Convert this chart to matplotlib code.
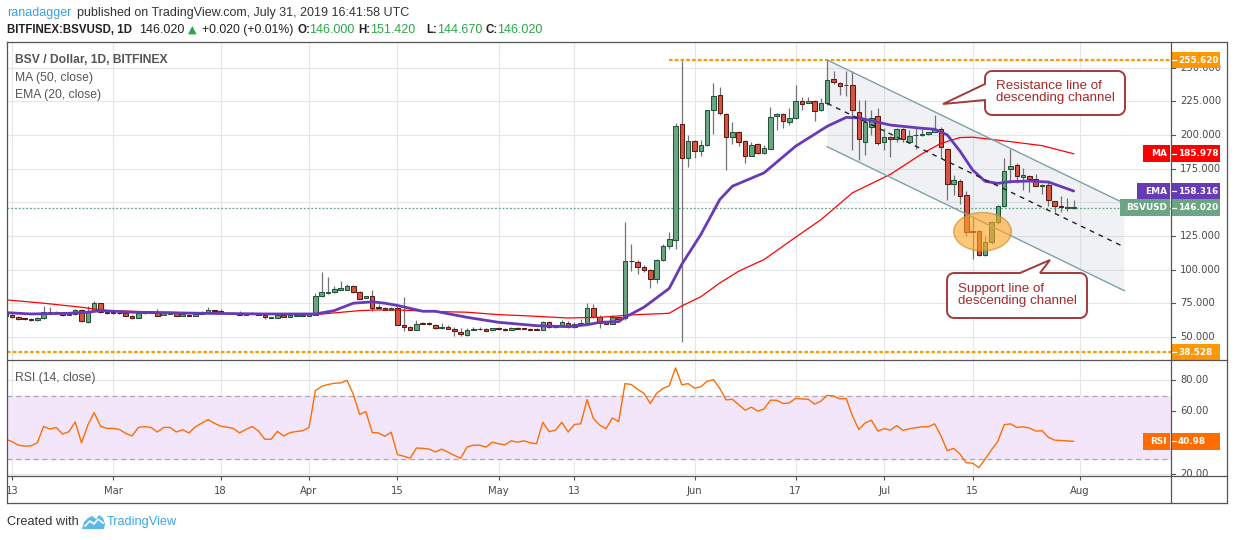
import numpy as np
import pandas as pd
import matplotlib
matplotlib.use("Agg")
import matplotlib.pyplot as plt
import matplotlib.dates as mdates
from matplotlib.patches import Rectangle, Ellipse, Polygon
from matplotlib.lines import Line2D
from matplotlib.transforms import Affine2D

plt.rcParams['font.family'] = ['DejaVu Sans']

# ---------------------------------------------------------------- data
dates = pd.date_range("2019-02-12", "2019-07-31", freq="D")

opens = [65.8, 66.5, 64.8, 63.5, 63.5, 62.5, 64.0, 68.8, 67.5, 67.8,
         66.5, 67.0, 70.0, 61.1, 69.0, 75.2, 68.8, 68.3, 67.8, 67.8,
         65.8, 64.0, 67.8, 68.3, 67.8, 66.3, 67.0, 67.8, 65.5, 66.5,
         65.5, 67.0, 68.8, 70.0, 69.5, 67.8, 67.7, 67.8, 66.5, 67.0,
         67.8, 66.5, 64.3, 64.0, 66.5, 64.8, 65.8, 65.5, 65.5, 66.5,
         80.2, 82.5, 83.2, 85.0, 85.0, 87.5, 83.5, 79.0, 80.0, 72.5,
         71.8, 70.0, 71.8, 59.0, 57.5, 55.0, 60.3, 60.0, 59.0, 56.5,
         57.5, 55.8, 53.8, 51.3, 55.3, 56.0, 56.0, 54.8, 56.8, 56.0,
         55.0, 56.8, 56.0, 56.0, 56.0, 55.0, 61.3, 57.0, 58.0, 60.3,
         57.0, 59.5, 60.3, 71.5, 65.0, 61.0, 59.5, 64.5, 63.9, 106.5,
         105.7, 102.0, 100.0, 93.0, 107.2, 117.6, 122.0, 208.2, 182.9, 195.5,
         188.1, 192.6, 218.6, 229.7, 215.3, 198.5, 202.2, 195.5, 184.4, 193.0,
         186.6, 189.6, 214.0, 215.6, 209.4, 212.6, 225.2, 223.8, 225.2, 218.6,
         224.0, 241.6, 238.6, 236.9, 237.1, 217.3, 195.0, 206.1, 213.8, 194.5,
         198.7, 196.7, 204.1, 195.0, 199.8, 199.7, 200.4, 202.1, 204.6, 189.3,
         163.5, 165.5, 155.0, 128.8, 128.5, 111.1, 120.6, 135.2, 147.0, 174.3,
         177.7, 168.8, 169.8, 167.3, 162.1, 163.1, 150.7, 147.5, 145.8, 146.0]
highs = [68.0, 67.0, 65.5, 64.2, 64.0, 64.8, 73.2, 72.5, 69.0, 68.5,
         67.5, 70.5, 70.5, 73.2, 77.0, 75.5, 69.2, 68.8, 68.3, 68.2,
         66.2, 68.2, 68.8, 68.8, 71.0, 69.3, 69.3, 68.0, 67.3, 66.8,
         68.8, 69.2, 72.5, 70.3, 70.8, 68.2, 68.2, 69.3, 67.6, 68.5,
         68.0, 66.8, 65.0, 66.8, 66.8, 66.6, 68.0, 66.8, 67.3, 82.2,
         98.0, 94.5, 87.5, 91.2, 89.0, 88.5, 84.0, 80.3, 84.5, 74.5,
         72.0, 72.0, 75.5, 79.5, 57.8, 62.7, 61.0, 61.0, 59.3, 60.0,
         59.0, 57.0, 56.5, 56.8, 57.0, 57.3, 56.5, 56.8, 57.5, 56.3,
         57.0, 57.3, 56.3, 56.3, 56.3, 62.0, 61.8, 58.3, 62.8, 62.0,
         61.0, 63.3, 75.0, 74.5, 66.0, 61.3, 66.3, 65.0, 135.4, 119.3,
         107.4, 103.0, 100.3, 108.0, 119.0, 128.0, 209.0, 254.7, 200.2, 196.0,
         196.5, 218.8, 238.6, 235.6, 216.0, 209.9, 203.0, 196.0, 194.8, 194.3,
         192.8, 220.8, 216.0, 216.0, 220.3, 237.4, 228.0, 228.2, 226.0, 227.5,
         255.6, 247.3, 239.0, 247.3, 247.3, 225.9, 225.9, 218.5, 219.7, 204.9,
         199.5, 204.9, 205.0, 203.6, 204.9, 204.5, 202.5, 214.8, 206.1, 190.0,
         170.2, 167.0, 158.5, 140.0, 129.0, 124.8, 136.0, 148.0, 183.0, 189.6,
         179.2, 175.3, 170.5, 171.2, 163.5, 165.0, 151.0, 154.5, 153.2, 151.42]
lows = [65.5, 64.3, 62.8, 62.8, 62.0, 62.0, 63.5, 67.0, 67.0, 65.8,
        66.0, 66.5, 60.9, 60.5, 68.5, 68.0, 67.3, 67.3, 67.2, 65.2,
        63.5, 63.7, 67.3, 67.5, 65.2, 66.0, 66.8, 65.2, 65.2, 65.2,
        65.2, 66.8, 68.5, 68.7, 67.5, 67.3, 67.3, 66.0, 66.2, 66.7,
        66.0, 63.3, 63.8, 63.8, 64.5, 64.5, 65.5, 65.3, 65.2, 66.2,
        79.5, 82.0, 82.8, 84.8, 84.5, 82.5, 78.0, 78.8, 69.0, 71.0,
        70.0, 69.8, 58.5, 54.3, 54.8, 54.8, 59.5, 59.0, 55.5, 56.2,
        55.5, 50.3, 51.0, 51.0, 55.0, 55.3, 54.2, 54.5, 55.2, 54.5,
        54.8, 55.5, 55.5, 54.8, 54.8, 54.8, 56.8, 56.8, 57.5, 56.5,
        56.8, 59.2, 59.8, 64.0, 56.3, 59.2, 59.2, 62.5, 62.5, 98.8,
        96.8, 98.5, 86.4, 90.0, 106.0, 115.4, 114.9, 46.1, 176.0, 182.9,
        184.2, 191.5, 201.0, 215.0, 173.8, 193.6, 191.6, 179.2, 184.2, 186.1,
        186.0, 189.5, 204.0, 205.2, 207.7, 212.0, 218.3, 223.5, 210.4, 218.0,
        222.0, 238.0, 229.5, 228.7, 188.6, 181.4, 185.0, 200.0, 192.5, 188.8,
        183.8, 195.0, 195.0, 194.0, 189.5, 199.0, 200.0, 202.0, 182.6, 152.0,
        155.3, 148.4, 125.0, 108.0, 110.4, 109.9, 119.0, 134.0, 146.5, 163.9,
        163.9, 158.7, 157.4, 162.0, 155.8, 147.0, 142.9, 142.5, 143.8, 144.67]
closes = [67.5, 64.8, 63.3, 63.3, 62.5, 64.3, 68.8, 67.5, 68.5, 66.3,
          67.0, 70.0, 61.6, 68.5, 75.2, 68.3, 67.8, 67.8, 67.7, 65.5,
          64.0, 67.8, 68.3, 67.8, 65.5, 67.8, 67.8, 65.5, 67.0, 65.5,
          67.3, 68.8, 70.0, 69.0, 67.8, 67.7, 67.8, 66.3, 67.3, 67.8,
          66.3, 64.8, 64.6, 66.5, 64.8, 66.3, 66.5, 66.5, 67.0, 80.0,
          83.0, 83.5, 85.2, 86.0, 87.5, 83.2, 78.2, 80.0, 71.5, 71.3,
          70.3, 71.8, 58.8, 57.0, 55.0, 59.8, 59.8, 59.3, 56.5, 57.5,
          55.8, 54.0, 52.0, 55.3, 56.0, 55.8, 54.5, 56.5, 55.5, 54.8,
          56.5, 55.8, 55.9, 55.0, 55.0, 61.3, 57.0, 58.0, 61.3, 57.3,
          59.8, 60.3, 71.5, 64.5, 60.5, 59.5, 64.5, 63.0, 106.4, 106.2,
          102.0, 99.8, 93.0, 107.2, 117.6, 122.8, 206.7, 182.9, 195.5, 188.1,
          192.6, 218.6, 229.0, 216.3, 198.5, 202.5, 195.0, 184.4, 192.6, 186.6,
          190.3, 213.4, 215.6, 210.1, 212.6, 225.2, 223.0, 224.8, 217.8, 224.0,
          240.8, 239.6, 236.6, 237.3, 218.8, 196.7, 209.3, 212.8, 193.7, 198.7,
          196.7, 204.1, 196.7, 198.9, 199.9, 200.9, 201.9, 204.6, 190.8, 163.3,
          166.5, 154.6, 127.7, 128.2, 111.1, 120.6, 135.4, 147.0, 173.5, 177.0,
          169.3, 170.5, 167.3, 162.4, 162.9, 151.5, 147.0, 146.8, 146.5, 146.02]

# indicator readings (days after 2019-02-13)
ma_days = [-1, 5, 11, 15, 24, 32, 40, 48, 55, 58, 61, 67, 72, 77, 82, 88, 93, 98,
           104, 106, 109, 112, 115, 119, 124, 128, 130, 133, 139, 144, 147, 150,
           152, 158, 163, 168]
ma_vals = [77.5, 75.0, 72.0, 69.5, 68.3, 67.5, 67.0, 66.5, 69.5, 70.0, 70.0, 68.8,
           68.3, 66.5, 65.5, 64.0, 64.5, 66.3, 67.5, 73.0, 79.8, 90.0, 98.8, 107.4,
           124.0, 137.0, 145.0, 157.0, 170.7, 186.0, 193.7, 198.0, 198.3, 195.0,
           192.0, 185.978]
ema_days = [-1, 3, 9, 12, 14, 19, 30, 40, 48, 51, 54, 57, 59, 61, 65, 67, 72, 77,
            83, 88, 91, 93, 96, 97, 100, 104, 106, 109, 112, 114, 119, 124, 129,
            132, 134, 139, 144, 146, 148, 150, 152, 154, 156, 158, 161, 164, 168]
ema_vals = [68.0, 67.0, 67.5, 68.3, 69.5, 68.3, 67.5, 67.0, 67.0, 69.5, 75.0, 76.0,
            75.0, 73.3, 69.0, 69.0, 64.5, 60.8, 58.3, 57.6, 59.0, 60.8, 61.3, 64.5,
            72.0, 86.0, 104.0, 126.0, 152.0, 161.9, 171.8, 191.6, 206.4, 213.0,
            212.6, 207.3, 204.9, 204.2, 200.0, 188.0, 174.0, 165.5, 164.0, 165.3,
            165.7, 165.0, 158.316]
rsi_vals = [42.3, 40.8, 38.5, 37.9, 38.1, 40.0, 50.4, 48.8, 49.8, 45.6,
            47.1, 53.3, 40.0, 51.3, 59.2, 50.6, 49.2, 49.2, 48.5, 46.0,
            44.4, 49.8, 50.3, 49.8, 46.9, 49.8, 49.8, 46.9, 48.3, 46.3,
            50.2, 52.5, 54.8, 52.5, 50.6, 50.0, 49.2, 46.3, 48.5, 50.4,
            47.5, 42.3, 42.3, 47.3, 44.4, 46.5, 47.2, 47.7, 49.8, 73.1,
            76.0, 77.1, 77.9, 78.1, 79.8, 71.0, 58.1, 59.8, 46.5, 46.3,
            44.2, 46.7, 32.5, 31.5, 30.2, 36.7, 36.5, 36.0, 34.2, 36.0,
            34.0, 32.0, 30.2, 37.3, 38.5, 38.5, 37.3, 40.4, 39.4, 38.8,
            41.3, 40.4, 41.3, 40.0, 39.4, 53.1, 47.1, 48.1, 53.1, 46.9,
            51.7, 52.1, 67.5, 55.5, 51.3, 49.0, 55.8, 53.5, 77.7, 77.1,
            74.0, 71.5, 65.0, 71.5, 74.6, 76.3, 87.7, 76.9, 77.7, 74.8,
            75.6, 79.2, 80.2, 74.6, 67.3, 67.7, 64.2, 60.8, 62.7, 60.2,
            61.5, 67.1, 67.1, 65.0, 65.4, 68.3, 67.9, 67.7, 64.6, 66.5,
            70.2, 69.8, 67.9, 68.3, 57.0, 48.5, 52.7, 54.4, 47.5, 49.0,
            48.1, 51.0, 47.9, 49.0, 49.6, 50.2, 50.2, 52.1, 44.4, 35.0,
            36.5, 32.9, 27.3, 27.1, 24.2, 29.8, 35.6, 41.0, 51.5, 52.1,
            49.8, 50.2, 49.4, 47.5, 47.7, 43.5, 41.7, 41.5, 41.2, 40.98]

tick_dates = ["2019-02-13", "2019-03-01", "2019-03-18", "2019-04-01", "2019-04-15",
              "2019-05-01", "2019-05-13", "2019-06-01", "2019-06-17", "2019-07-01",
              "2019-07-15", "2019-08-01"]
tick_labels = ["13", "Mar", "18", "Apr", "15", "May", "13", "Jun", "17", "Jul", "15", "Aug"]
price_ticks = [50, 75, 100, 125, 150, 175, 200, 225, 250]
rsi_ticks = [20, 40, 60, 80]
rsi_band = [30, 70]

high_mark = 255.620
low_mark = 38.528
high_mark_start = "2019-05-28"

channel_dates = ["2019-06-22", "2019-08-08"]
channel_top = [255.62, 149.2]
channel_bottom = [191.2, 84.3]

ellipse_center_date = "2019-07-16 14:00"
ellipse_center_price = 128.1
ellipse_width_days = 9.1
ellipse_height_price = 28.5

resist_text = "Resistance line of\ndescending channel"
support_text = "Support line of\ndescending channel"

# ---------------------------------------------------------------- colours
UP_FILL, UP_EDGE = "#6ba583", "#225437"
DN_FILL, DN_EDGE = "#d75442", "#5b1a13"
WICK = "#737375"
MA_COL = "#ff0000"
EMA_COL = "#673ab7"
RSI_COL = "#ff6d00"
ORANGE = "#ff9800"
GRID = "#e6e6e6"
FRAME = "#555555"
TXT = "#4a4a4a"
CALLOUT = "#a33a3a"
UI_FONT = "Liberation Sans"

# ---------------------------------------------------------------- figure
W, H = 1234, 540
fig = plt.figure(figsize=(W / 100, H / 100), dpi=100)
fig.patch.set_facecolor("white")
pix = Affine2D().scale(1.0 / W, -1.0 / H).translate(0, 1) + fig.transFigure


def rect(x0, y0, x1, y1):
    return [x0 / W, 1 - y1 / H, (x1 - x0) / W, (y1 - y0) / H]


ax = fig.add_axes(rect(7, 42, 1171, 360))
axr = fig.add_axes(rect(7, 360, 1171, 476), sharex=ax)

x = mdates.date2num(dates)
base = mdates.date2num(pd.Timestamp("2019-02-13"))
xlim = (mdates.date2num(pd.Timestamp("2019-02-12 05:00")),
        mdates.date2num(pd.Timestamp("2019-08-15 09:36")))
PRICE_LIM = (32.81, 268.99)
RSI_LIM = (18.9, 92.7)

for a in (ax, axr):
    a.set_xlim(*xlim)
    for s in a.spines.values():
        s.set_visible(False)
    a.tick_params(left=False, right=False, labelleft=False, labelright=False)
ax.set_ylim(*PRICE_LIM)
axr.set_ylim(*RSI_LIM)

tx = mdates.date2num(pd.to_datetime(tick_dates))

# grids
for v in price_ticks:
    ax.axhline(v, color=GRID, lw=0.8, zorder=0)
for v in rsi_ticks:
    axr.axhline(v, color=GRID, lw=0.8, zorder=0)
for t in tx:
    ax.axvline(t, color=GRID, lw=0.8, zorder=0)
    axr.axvline(t, color=GRID, lw=0.8, zorder=0)

# channel fill (under the candles)
cx = mdates.date2num(pd.to_datetime(channel_dates))
chan = Polygon([(cx[0], channel_top[0]), (cx[1], channel_top[1]),
                (cx[1], channel_bottom[1]), (cx[0], channel_bottom[0])],
               closed=True, facecolor="#b8c3d1", alpha=0.22, edgecolor="none", zorder=1)
ax.add_patch(chan)

# candles
o = np.array(opens); h = np.array(highs); l = np.array(lows); c = np.array(closes)
up = c >= o
bot = np.minimum(o, c)
hgt = np.maximum(np.abs(c - o), 0.35)
ax.vlines(x, l, h, color=WICK, lw=0.9, zorder=3)
ax.bar(x[up], hgt[up], bottom=bot[up], width=0.72, color=UP_FILL,
       edgecolor=UP_EDGE, linewidth=0.75, zorder=4)
ax.bar(x[~up], hgt[~up], bottom=bot[~up], width=0.72, color=DN_FILL,
       edgecolor=DN_EDGE, linewidth=0.75, zorder=4)

# moving averages
ax.plot(base + np.array(ma_days), ma_vals, color=MA_COL, lw=0.9, zorder=5)
ax.plot(base + np.array(ema_days), ema_vals, color=EMA_COL, lw=2.0, zorder=5,
        solid_capstyle="round")

# price line and high / low marks
ax.axhline(closes[-1], color=UP_FILL, lw=0.9, ls=(0, (1.5, 1.5)), zorder=2)
ax.axhline(low_mark, color=ORANGE, lw=1.6, ls=(0, (1.6, 1.0)), zorder=6)
ax.plot([mdates.date2num(pd.Timestamp(high_mark_start)), xlim[1]], [high_mark, high_mark],
        color=ORANGE, lw=1.6, ls=(0, (1.6, 1.0)), zorder=6)

# channel lines
ax.plot(cx, channel_top, color="#7fa0aa", lw=1.0, zorder=7)
ax.plot(cx, channel_bottom, color="#7fa0aa", lw=1.0, zorder=7)
mid = (np.array(channel_top) + np.array(channel_bottom)) / 2
ax.plot(cx, mid, color="#222222", lw=1.0, ls=(0, (3.5, 3.5)), zorder=7)

# ellipse
ell = Ellipse((mdates.date2num(pd.Timestamp(ellipse_center_date)), ellipse_center_price),
              ellipse_width_days, ellipse_height_price, facecolor="#ffa726", alpha=0.62,
              edgecolor="#c8902a", lw=1.2, zorder=8)
ax.add_patch(ell)

# RSI
axr.axhspan(rsi_band[0], rsi_band[1], color="#f3e6fb", zorder=0.5)
for v in rsi_band:
    axr.axhline(v, color="#a9a9b0", lw=0.9, ls=(0, (4, 3)), zorder=1)
axr.plot(x, rsi_vals, color=RSI_COL, lw=1.0, zorder=4)

# date axis
axr.set_xticks(tx)
axr.set_xticklabels(tick_labels)
axr.tick_params(axis="x", bottom=True, labelbottom=True, length=3, width=0.8,
                color=FRAME, labelsize=7.2, labelcolor=TXT, pad=4.5)
ax.tick_params(axis="x", bottom=False, labelbottom=False)

# ---------------------------------------------------------------- right scale
axl = fig.add_axes(rect(1100, 42, 1234, 360))
axl.set_xlim(1100, 1234); axl.set_ylim(*PRICE_LIM); axl.axis("off")
axl.set_zorder(5); axl.patch.set_visible(False)
axrl = fig.add_axes(rect(1100, 360, 1234, 476))
axrl.set_xlim(1100, 1234); axrl.set_ylim(*RSI_LIM); axrl.axis("off")
axrl.set_zorder(5); axrl.patch.set_visible(False)

p_unit = 318 / (PRICE_LIM[1] - PRICE_LIM[0])
r_unit = 116 / (RSI_LIM[1] - RSI_LIM[0])
BOX_HALF = 8.3

price_boxes = [high_mark, low_mark, ma_vals[-1], ema_vals[-1], closes[-1]]
rsi_boxes = [rsi_vals[-1]]


def hidden(v, boxes, unit):
    return any(abs(v - b) * unit < BOX_HALF - 2 for b in boxes)


for v in price_ticks:
    axl.plot([1171, 1175], [v, v], color=FRAME, lw=0.8, zorder=1)
    if not hidden(v, price_boxes, p_unit):
        axl.text(1180, v, f"{v:.3f}", fontsize=7.2, color=TXT, va="center", ha="left", zorder=1)
for v in rsi_ticks:
    axrl.plot([1171, 1175], [v, v], color=FRAME, lw=0.8, zorder=1, clip_on=True)
    if not hidden(v, rsi_boxes, r_unit):
        axrl.text(1180, v, f"{v:.2f}", fontsize=7.2, color=TXT, va="center", ha="left",
                  zorder=1, clip_on=True)


def value_box(axis, unit, v, color, label=None, lx0=None, fmt="{:.3f}"):
    hh = BOX_HALF / unit
    axis.add_patch(Rectangle((1172, v - hh), 48, 2 * hh, facecolor=color,
                             edgecolor="none", zorder=3))
    axis.plot([1172, 1176], [v, v], color="white", lw=0.9, zorder=4)
    axis.text(1178, v, fmt.format(v), color="white", fontsize=6.4, fontweight="bold",
              va="center", ha="left", zorder=5)
    if label is not None:
        axis.add_patch(Rectangle((lx0, v - hh), 1170 - lx0, 2 * hh, facecolor=color,
                                 edgecolor="none", zorder=3))
        axis.text(1167, v, label, color="white", fontsize=6.4, fontweight="bold",
                  va="center", ha="right", zorder=5)


value_box(axl, p_unit, high_mark, ORANGE)
value_box(axl, p_unit, low_mark, ORANGE)
value_box(axl, p_unit, ma_vals[-1], MA_COL, "MA", 1143)
value_box(axl, p_unit, ema_vals[-1], EMA_COL, "EMA", 1137)
value_box(axl, p_unit, closes[-1], UP_FILL, "BSVUSD", 1120)
value_box(axrl, r_unit, rsi_vals[-1], RSI_COL, "RSI", 1143, fmt="{:.2f}")

# ---------------------------------------------------------------- frame lines
for (xa, ya, xb, yb) in [(7, 42, 1227, 42), (7, 503, 1227, 503), (7, 42, 7, 503),
                         (1227, 42, 1227, 503), (1171, 42, 1171, 503),
                         (7, 360, 1227, 360), (7, 476, 1227, 476)]:
    fig.add_artist(Line2D([xa, xb], [ya, yb], transform=pix, color=FRAME, lw=0.9, zorder=10))


# ---------------------------------------------------------------- callouts
def callout(x0, y0, x1, y1, r, side, a, b, tip):
    def arc(cxx, cyy, a0, a1, n=7):
        t = np.radians(np.linspace(a0, a1, n))
        return [(cxx + r * np.cos(tt), cyy + r * np.sin(tt)) for tt in t]
    pts = arc(x0 + r, y0 + r, 180, 270)
    if side == "top":
        pts += [(a, y0), tip, (b, y0)]
    pts += arc(x1 - r, y0 + r, 270, 360)
    pts += arc(x1 - r, y1 - r, 0, 90)
    pts += arc(x0 + r, y1 - r, 90, 180)
    if side == "left":
        pts += [(x0, b), tip, (x0, a)]
    return Polygon(pts, closed=True, transform=pix, facecolor="white",
                   edgecolor=CALLOUT, lw=1.4, zorder=11)


fig.add_artist(callout(985, 71, 1125, 115, 7, "left", 84, 100, (943, 104)))
fig.add_artist(callout(947, 273, 1087, 318, 7, "top", 1020, 1040, (1050, 260)))
fig.text(996, 92, resist_text, transform=pix, fontsize=9.6, family=UI_FONT,
         color="#a52a2a", va="center", ha="left", linespacing=0.95, zorder=12)
fig.text(958, 295, support_text, transform=pix, fontsize=9.6, family=UI_FONT,
         color="#a52a2a", va="center", ha="left", linespacing=0.95, zorder=12)

# ---------------------------------------------------------------- texts
def ptext(xp, yp, s, **kw):
    kw.setdefault("family", UI_FONT)
    kw.setdefault("va", "center")
    kw.setdefault("ha", "left")
    fig.text(xp, yp, s, transform=pix, zorder=12, **kw)


GREEN_T = "#29a745"
ptext(7, 13, "ranadagger", fontsize=9.0, color="#3ba2e0")
ptext(77, 13, "published on TradingView.com, July 31, 2019 16:41:58 UTC", fontsize=9.0, color="#333333")
ptext(7, 30, "BITFINEX:BSVUSD, 1D", fontsize=8.3, color="#222222", fontweight="bold")
ptext(139, 30, "146.020", fontsize=9.0, color="#222222")
ptext(188, 30, "\u25B2", fontsize=8.0, color=GREEN_T, family="DejaVu Sans")
ptext(202, 30, "+0.020 (+0.01%)", fontsize=8.8, color="#222222")
for lx, lab, vx, val in [(298, "O:", 309, "146.000"), (358, "H:", 370, "151.420"),
                         (426, "L:", 437, "144.670"), (485, "C:", 497, "146.020")]:
    ptext(lx, 30, lab, fontsize=8.3, color="#222222", fontweight="bold")
    ptext(vx, 30, val, fontsize=9.0, color=GREEN_T)

ptext(15, 60, "BSV / Dollar, 1D, BITFINEX", fontsize=8.7, color="#555555", fontweight="bold")
ptext(15, 78, "MA (50, close)", fontsize=8.7, color="#555555")
ptext(15, 95, "EMA (20, close)", fontsize=8.7, color="#555555")
ptext(15, 378, "RSI (14, close)", fontsize=8.7, color="#555555")

ptext(7, 522, "Created with", fontsize=9.2, color="#333333")
ptext(107, 522, "TradingView", fontsize=9.2, color="#3ea6e0")
logo = Polygon([(82, 529), (84, 522), (88, 518), (92, 516), (96, 519), (99, 515),
                (103, 518), (105, 524), (104, 529)], closed=True, transform=pix,
               facecolor="#5cb8e6", edgecolor="none", zorder=12)
fig.add_artist(logo)
fig.add_artist(Line2D([85, 90, 94, 98, 103], [526, 521, 524, 519, 523], transform=pix,
                      color="white", lw=1.2, zorder=13))

fig.savefig("out.png", dpi=100, facecolor="white")
